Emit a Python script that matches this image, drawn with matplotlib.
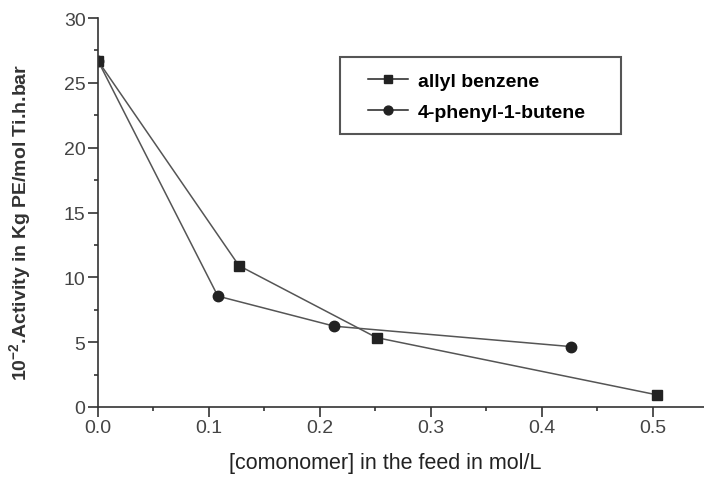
import numpy as np
import matplotlib
matplotlib.use('Agg')
from matplotlib import pyplot as plt
from matplotlib.patches import Rectangle
from matplotlib.ticker import MultipleLocator, FormatStrFormatter

plt.rcParams['font.family'] = ['Liberation Sans', 'DejaVu Sans']
plt.rcParams['mathtext.fontset'] = 'custom'
plt.rcParams['mathtext.rm'] = 'Liberation Sans'
plt.rcParams['mathtext.bf'] = 'Liberation Sans:bold'

# comonomer concentration (mol/L) and activity (10^-2 kg PE/mol Ti.h.bar)
allyl_x = [0.0, 0.127, 0.251, 0.504]
allyl_y = [26.7, 10.9, 5.35, 0.93]
butene_x = [0.0, 0.108, 0.213, 0.426]
butene_y = [26.7, 8.55, 6.23, 4.66]

labels = ['allyl benzene', '4-phenyl-1-butene']

W, H = 704, 485
fig = plt.figure(figsize=(W/100, H/100), dpi=100)
ax = fig.add_axes([98/W, 77/H, 606/W, 389/H])

ax.plot(allyl_x, allyl_y, color='#555555', lw=1.1, marker='s', ms=6.5,
        mfc='#222222', mec='#222222', label=labels[0])
ax.plot(butene_x, butene_y, color='#555555', lw=1.1, marker='o', ms=7.5,
        mfc='#222222', mec='#222222', label=labels[1])

ax.set_xlim(0, 0.546)
ax.set_ylim(0, 30)
ax.xaxis.set_major_locator(MultipleLocator(0.1))
ax.xaxis.set_minor_locator(MultipleLocator(0.05))
ax.yaxis.set_major_locator(MultipleLocator(5))
ax.yaxis.set_minor_locator(MultipleLocator(2.5))
ax.xaxis.set_major_formatter(FormatStrFormatter('%.1f'))

for s in ['top', 'right']:
    ax.spines[s].set_visible(False)
for s in ['left', 'bottom']:
    ax.spines[s].set_color('#333333')
    ax.spines[s].set_linewidth(1.2)

ax.tick_params(which='major', direction='out', length=7, width=1.2,
               color='#333333', labelsize=14, labelcolor='#444444', pad=2)
ax.tick_params(which='minor', direction='out', length=3, width=1.2, color='#333333')

ax.set_xlabel('[comonomer] in the feed in mol/L', fontsize=15.5, color='#222222')
ax.xaxis.set_label_coords((385 - 98) / 606, -(453 - 408) / 389)
ax.set_ylabel(r'10$^{\mathbf{-2}}$.Activity in Kg PE/mol Ti.h.bar', fontsize=14,
              fontweight='bold', color='#333333')
ax.yaxis.set_label_coords(-(98 - 34) / 606, (408 - 222) / 389)

# legend without its own frame, box drawn separately
leg = ax.legend(loc='upper left', bbox_to_anchor=(368/W, 1 - 73/H),
                bbox_transform=fig.transFigure, frameon=False,
                prop={'weight': 'bold', 'size': 14},
                handlelength=2.05, handletextpad=0.5, borderpad=0,
                labelspacing=0.72, borderaxespad=0, markerscale=0.85)
for h in leg.get_lines():
    h.set_color('#222222')
fig.patches.append(Rectangle((340/W, 1 - 135/H), 281/W, 77/H,
                             transform=fig.transFigure, fill=False,
                             edgecolor='#555555', linewidth=1.5))

fig.savefig('out.png', dpi=100)
